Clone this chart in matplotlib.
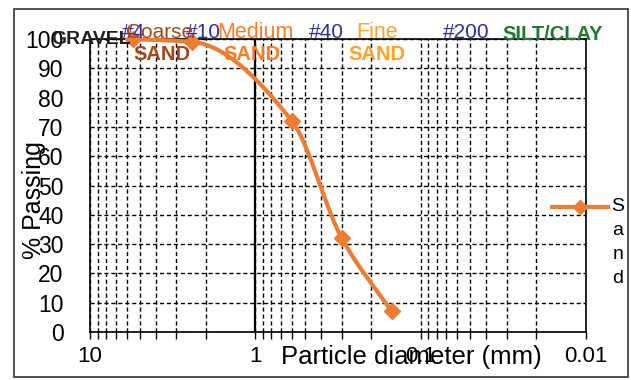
import matplotlib
matplotlib.use("Agg")
import matplotlib.pyplot as plt
import numpy as np
from matplotlib.ticker import FixedLocator, NullFormatter
from matplotlib.lines import Line2D
from matplotlib.patches import Rectangle

plt.rcParams['font.family'] = ['Liberation Sans', 'DejaVu Sans']

diameter_mm = [5.5, 2.4, 0.6, 0.3, 0.15]
percent_passing = [100, 99, 72, 32, 7]
series_name = "Sand"
x_ticks = [10, 1, 0.1, 0.01]
x_tick_labels = ["10", "1", "0.1", "0.01"]
y_ticks = list(range(0, 101, 10))

sieve_labels = ["#4", "#10", "#40", "#200"]

orange = '#ED7D31'

fig = plt.figure(figsize=(6.31, 3.80), dpi=100)
fig.patches.append(Rectangle((14/631, 3/380), 614/631, 368/380, transform=fig.transFigure,
                             fill=False, edgecolor='#333333', lw=1.2))
ax = fig.add_axes([90/631, 1-332/380, 496/631, 293/380])
ax.set_xscale('log')
ax.set_xlim(10, 0.01)
ax.set_ylim(0, 100)

# grid
minor = []
for dec in [1, 0.1, 0.01]:
    for m in range(2, 10):
        minor.append(dec * m)
ax.xaxis.set_major_locator(FixedLocator(x_ticks))
ax.xaxis.set_minor_locator(FixedLocator(minor))
ax.xaxis.set_minor_formatter(NullFormatter())
ax.set_xticklabels(x_tick_labels)
ax.set_yticks(y_ticks)
ax.grid(True, which='both', axis='x', color='black', linestyle=(0, (3, 2)), lw=1.0)
ax.grid(True, which='major', axis='y', color='black', linestyle=(0, (3, 2)), lw=1.0)
ax.axvline(1, color='black', lw=1.6)
for s in ax.spines.values():
    s.set_linewidth(1.2)
ax.tick_params(axis='x', which='both', direction='out', length=5, width=1, labelsize=16, pad=5)
ax.tick_params(axis='y', which='both', length=0, labelsize=16.5, pad=19)

# smoothed line: monotone cubic (PCHIP) of % passing vs log10(diameter)
u = -np.log10(diameter_mm)
yv = np.array(percent_passing, dtype=float)
h = np.diff(u)
s = np.diff(yv) / h
n = len(u)
d = np.zeros(n)
for k in range(1, n - 1):
    if s[k-1] * s[k] <= 0:
        d[k] = 0.0
    else:
        w1 = 2*h[k] + h[k-1]
        w2 = h[k] + 2*h[k-1]
        d[k] = (w1 + w2) / (w1/s[k-1] + w2/s[k])
d[0] = s[0]
d[-1] = s[-1]
cu, cy = [], []
for k in range(n - 1):
    t = np.linspace(0, 1, 50)
    h00 = 2*t**3 - 3*t**2 + 1
    h10 = t**3 - 2*t**2 + t
    h01 = -2*t**3 + 3*t**2
    h11 = t**3 - t**2
    cu.append(u[k] + t*h[k])
    cy.append(h00*yv[k] + h10*h[k]*d[k] + h01*yv[k+1] + h11*h[k]*d[k+1])
cu = np.concatenate(cu)
cy = np.concatenate(cy)
ax.plot(10**(-cu), cy, color=orange, lw=3, clip_on=False, zorder=5)
ax.plot(diameter_mm, percent_passing, linestyle='none', marker='D', ms=8, color=orange,
        clip_on=False, zorder=6)

ax.set_ylabel('% Passing', fontsize=18)
ax.yaxis.set_label_coords((46-90)/496, 0.45)
ax.text((411-90)/496, -25/293, 'Particle diameter (mm)', transform=ax.transAxes, fontsize=18.5,
        ha='center', va='center')

# top annotations
def ftxt(x, y, s, color, bold=False, size=15):
    fig.text(x/631, 1-y/380, s, color=color, fontsize=size, ha='center', va='center',
             fontweight='bold' if bold else 'normal')

blue = '#2E2EA8'
ftxt(91, 39, 'GRAVEL', '#222222', bold=True, size=14)
for lab, xp in zip(sieve_labels, [133, 203, 326, 466]):
    ftxt(xp, 32, lab, blue, size=15)
ftxt(160, 33, 'Coarse', '#A4451A', size=15)
ftxt(162, 55, 'SAND', '#A4451A', bold=True, size=14.5)
ftxt(255, 33, 'Medium', '#FF7A22', size=15.5)
ftxt(252, 55, 'SAND', '#FF7A22', bold=True, size=14.5)
ftxt(377, 33, 'Fine', '#FFA22A', size=15.5)
ftxt(377, 55, 'SAND', '#FFA22A', bold=True, size=14.5)
ftxt(553, 34, 'SILT/CLAY', '#1E7B2E', bold=True, size=14.5)

# legend
fig.add_artist(Line2D([552/631, 608/631], [1-207/380]*2, color=orange, lw=3))
fig.add_artist(Line2D([580/631], [1-207/380], color=orange, marker='D', ms=7))
fig.text(618/631, 1-198/380, '\n'.join(series_name), fontsize=14, ha='center', va='top',
         linespacing=1.55)

fig.savefig('out.png', dpi=100)
